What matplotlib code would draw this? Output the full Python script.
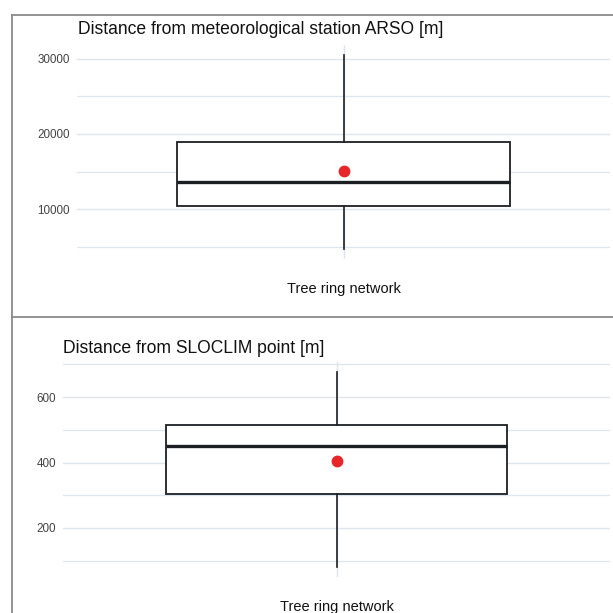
import matplotlib
matplotlib.use("Agg")
import matplotlib.pyplot as plt
from matplotlib.lines import Line2D

plt.rcParams['font.family'] = ['Liberation Sans', 'DejaVu Sans']

# ---- data ----
category = "Tree ring network"
titles = ["Distance from meteorological station ARSO [m]", "Distance from SLOCLIM point [m]"]
# panel 1: ARSO distances
arso_whislo, arso_q1, arso_med, arso_q3, arso_whishi = 4670, 10400, 13600, 18930, 30530
arso_mean = 15070
arso_major = [10000, 20000, 30000]
arso_minor = [5000, 15000, 25000]
# panel 2: SLOCLIM distances
sloc_whislo, sloc_q1, sloc_med, sloc_q3, sloc_whishi = 81, 305, 449, 514, 676
sloc_mean = 406
sloc_major = [200, 400, 600]
sloc_minor = [100, 300, 500, 700]

W = H = 613
fig = plt.figure(figsize=(W / 100, H / 100), dpi=100)
fig.patch.set_facecolor("white")

def px_rect(l, t, r, b):
    return [l / W, 1 - b / H, (r - l) / W, (b - t) / H]

grid_col = "#dfe5ec"
edge_col = "#1b1f24"

def panel(rect, stats_vals, mean, major, minor, title, title_xy, lab_xy):
    ax = fig.add_axes(rect)
    lo, q1, med, q3, hi = stats_vals
    stats = [dict(med=med, q1=q1, q3=q3, whislo=lo, whishi=hi, mean=mean, fliers=[])]
    ax.bxp(stats, positions=[1], widths=0.75, showcaps=False, showmeans=True,
           showfliers=False, patch_artist=True,
           boxprops=dict(facecolor="white", edgecolor=edge_col, linewidth=1.3),
           medianprops=dict(color=edge_col, linewidth=2.4),
           whiskerprops=dict(color=edge_col, linewidth=1.2),
           meanprops=dict(marker="o", markerfacecolor="#e8262a", markeredgecolor="#e8262a",
                          markersize=7.5))
    rng = hi - lo
    ax.set_ylim(lo - 0.05 * rng, hi + 0.05 * rng)
    ax.set_xlim(0.4, 1.6)
    ax.set_yticks(major)
    ax.set_yticks(minor, minor=True)
    ax.set_yticklabels([str(v) for v in major])
    ax.set_xticks([1])
    ax.set_xticklabels([""])
    ax.tick_params(axis="both", which="both", length=0)
    ax.tick_params(axis="y", labelsize=8.4, labelcolor="#444444", pad=5)
    ax.grid(True, which="major", color=grid_col, linewidth=1.0)
    ax.grid(True, which="minor", axis="y", color=grid_col, linewidth=0.9)
    ax.set_axisbelow(True)
    for s in ax.spines.values():
        s.set_visible(False)
    fig.text(title_xy[0] / W, 1 - title_xy[1] / H, title, fontsize=12.65, color="#111111",
             ha="left", va="baseline")
    fig.text(lab_xy[0] / W, 1 - lab_xy[1] / H, category, fontsize=10.5, color="#111111",
             ha="center", va="baseline")
    return ax

panel(px_rect(77, 45.3, 610, 258.7),
      (arso_whislo, arso_q1, arso_med, arso_q3, arso_whishi), arso_mean,
      arso_major, arso_minor, titles[0], (78, 34), (343.5, 293))
panel(px_rect(63, 362.4, 610, 576.7),
      (sloc_whislo, sloc_q1, sloc_med, sloc_q3, sloc_whishi), sloc_mean,
      sloc_major, sloc_minor, titles[1], (63, 353), (336.5, 611))

# panel borders
bcol = "#8a8a8a"
for xs, ys in [([12, 613], [15, 15]), ([12, 12], [15, 613]), ([12, 613], [317, 317])]:
    fig.add_artist(Line2D([x / W for x in xs], [1 - y / H for y in ys],
                          color=bcol, linewidth=1.3, transform=fig.transFigure))

fig.savefig("out.png", dpi=100, facecolor="white")
